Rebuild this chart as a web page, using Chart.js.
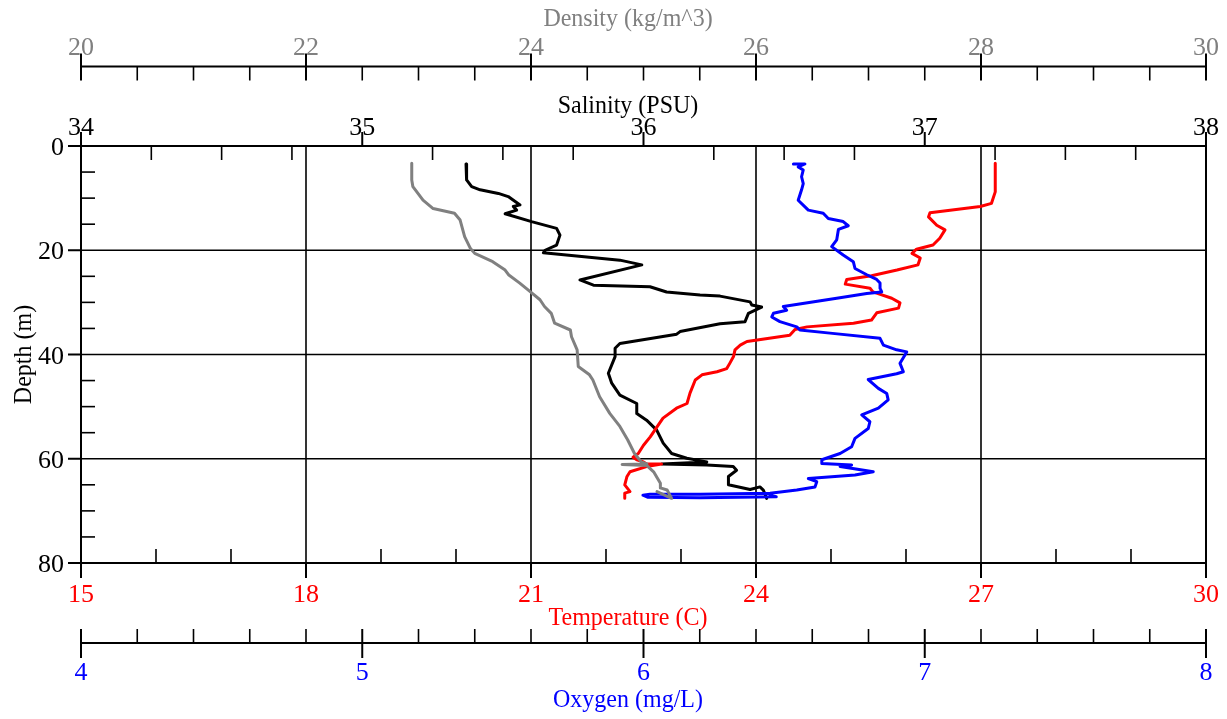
<!DOCTYPE html>
<html>
<head>
<meta charset="utf-8">
<title>CTD profile</title>
<script src="https://cdn.jsdelivr.net/npm/chart.js@4.4.1/dist/chart.umd.min.js"></script>
<style>
  body { margin: 0; background: #fff; }
  canvas { display: block; }
</style>
</head>
<body>
<canvas id="profile" width="1227" height="719"></canvas>
<script>
// cast profile, depth in metres
const tempDepth = [3.3, 8.8, 11.0, 11.6, 12.8, 13.6, 15.2, 16.1, 17.7, 19.0, 19.8, 20.6, 21.5, 22.8, 23.8, 24.9, 25.6, 26.5, 27.3, 28.0, 29.2, 30.1, 31.1, 32.0, 33.4, 34.0, 34.7, 35.2, 36.3, 37.5, 38.2, 39.1, 40.4, 41.7, 42.7, 43.3, 43.9, 44.9, 47.4, 49.4, 50.3, 52.2, 53.9, 55.8, 57.4, 59.0, 59.7, 60.2, 60.6, 61.0, 61.0, 61.5, 62.5, 63.4, 65.0, 66.3, 66.6, 67.6]
const tempValue = [27.19, 27.19, 27.14, 26.99, 26.32, 26.30, 26.41, 26.52, 26.45, 26.36, 26.14, 26.08, 26.19, 26.16, 25.88, 25.54, 25.21, 25.19, 25.52, 25.56, 25.81, 25.92, 25.90, 25.61, 25.54, 25.30, 24.68, 24.52, 24.45, 23.88, 23.79, 23.72, 23.70, 23.65, 23.61, 23.48, 23.28, 23.19, 23.12, 23.08, 22.94, 22.76, 22.68, 22.59, 22.50, 22.43, 22.36, 22.41, 22.50, 22.54, 22.74, 22.54, 22.32, 22.28, 22.25, 22.32, 22.25, 22.25]

const salDepth = [3.45, 6.5, 7.8, 8.4, 9.1, 9.7, 11.3, 11.6, 12.3, 13.0, 14.5, 15.8, 17.1, 19.0, 20.0, 20.5, 21.9, 22.8, 25.7, 26.7, 27.0, 28.0, 28.6, 28.8, 29.9, 30.5, 30.9, 32.1, 33.7, 34.1, 35.6, 36.1, 37.9, 38.8, 40.4, 43.6, 45.5, 47.8, 49.4, 51.3, 52.6, 54.5, 57.0, 59.0, 59.9, 60.6, 61.0, 61.2, 61.5, 62.2, 63.4, 65.0, 65.9, 65.4, 66.0, 67.6]
const salValue = [35.369, 35.371, 35.389, 35.419, 35.484, 35.519, 35.561, 35.537, 35.549, 35.508, 35.602, 35.691, 35.703, 35.691, 35.650, 35.644, 35.916, 35.994, 35.774, 35.822, 36.023, 36.082, 36.201, 36.272, 36.379, 36.385, 36.420, 36.373, 36.361, 36.272, 36.130, 36.118, 35.916, 35.899, 35.899, 35.875, 35.887, 35.916, 35.976, 35.976, 36.011, 36.047, 36.070, 36.100, 36.154, 36.225, 36.065, 36.225, 36.319, 36.331, 36.302, 36.302, 36.379, 36.414, 36.426, 36.438]

const densDepth = [3.3, 6.5, 7.8, 10.4, 12.0, 12.9, 14.2, 17.4, 19.6, 20.6, 22.2, 23.8, 24.7, 26.3, 27.9, 29.5, 30.8, 32.1, 34.0, 35.3, 36.6, 39.1, 42.3, 43.9, 44.9, 48.1, 51.3, 53.8, 56.4, 59.0, 60.6, 61.0, 61.1, 61.3, 62.5, 64.7, 65.6, 66.0, 67.6, 66.3]
const densValue = [22.94, 22.94, 22.95, 23.04, 23.13, 23.32, 23.37, 23.41, 23.46, 23.50, 23.66, 23.77, 23.80, 23.90, 23.99, 24.08, 24.12, 24.18, 24.21, 24.35, 24.36, 24.41, 24.42, 24.52, 24.55, 24.61, 24.70, 24.79, 24.86, 24.92, 24.98, 25.03, 24.81, 25.03, 25.09, 25.15, 25.15, 25.21, 25.25, 25.12]

const oxyDepth = [3.45, 3.45, 4.0, 4.6, 5.9, 7.2, 8.4, 10.4, 12.3, 12.9, 13.9, 14.5, 15.3, 16.0, 18.0, 19.3, 20.9, 22.2, 23.5, 24.7, 25.6, 26.3, 27.3, 28.0, 28.3, 29.2, 30.8, 31.5, 32.1, 32.8, 33.7, 34.7, 35.3, 35.9, 36.9, 38.2, 39.1, 39.5, 41.7, 43.3, 43.7, 44.8, 46.5, 47.5, 48.7, 50.3, 51.6, 52.9, 54.2, 56.1, 57.7, 59.0, 60.2, 60.9, 61.2, 61.5, 62.5, 63.1, 63.8, 64.4, 65.4, 66.0, 66.6, 66.8, 66.8, 67.0, 67.4, 67.5, 67.3, 67.05]
const oxyValue = [6.533, 6.574, 6.550, 6.568, 6.562, 6.568, 6.562, 6.550, 6.586, 6.639, 6.657, 6.710, 6.728, 6.693, 6.687, 6.669, 6.710, 6.746, 6.752, 6.794, 6.829, 6.841, 6.841, 6.847, 6.794, 6.687, 6.497, 6.509, 6.462, 6.456, 6.485, 6.545, 6.556, 6.663, 6.841, 6.853, 6.900, 6.936, 6.912, 6.924, 6.900, 6.799, 6.835, 6.865, 6.870, 6.835, 6.776, 6.805, 6.799, 6.752, 6.740, 6.699, 6.634, 6.634, 6.740, 6.699, 6.817, 6.752, 6.586, 6.616, 6.610, 6.545, 6.450, 6.201, 6.023, 5.998, 6.016, 6.201, 6.472, 6.450]

// axis ticks
const depthTicks = [0, 20, 40, 60, 80]
const tempTicks = [15, 18, 21, 24, 27, 30]
const oxyTicks = [4, 5, 6, 7, 8]
const salTicks = [34, 35, 36, 37, 38]
const densTicks = [20, 22, 24, 26, 28, 30]

const GRAY = '#808080'
const RED = '#ff0000'
const BLUE = '#0000ff'
const labelFont = '26px "Liberation Serif", "Times New Roman", serif'
const titleFont = '24px "Liberation Serif", "Times New Roman", serif'
const TITLE_X = 628

function pts(depth, values) {
  return depth.map((d, i) => ({ x: values[i], y: d }))
}

function minorValues(majors, step) {
  let out = []
  let lo = majors[0], hi = majors[majors.length - 1]
  let n = Math.round((hi - lo) / step)
  for (let i = 0; i <= n; i++) {
    let v = lo + i * step
    if (!majors.some(m => Math.abs(m - v) < 1e-6)) out.push(v)
  }
  return out
}

function line(ctx, x1, y1, x2, y2) {
  ctx.beginPath()
  ctx.moveTo(x1, y1)
  ctx.lineTo(x2, y2)
  ctx.stroke()
}

// titles come out a touch taller than the plain font
function tallText(ctx, text, x, y) {
  ctx.save()
  ctx.translate(x, y)
  ctx.scale(1, 1.06)
  ctx.fillText(text, 0, 0)
  ctx.restore()
}

// horizontal axis: majors span [majUp, majDown] around the line, minors [minUp, minDown]
function hAxis(ctx, scale, y, majors, step, o) {
  ctx.strokeStyle = '#000'
  ctx.lineWidth = 2
  line(ctx, scale.left, y, scale.right, y)
  majors.forEach(v => {
    let x = scale.getPixelForValue(v)
    line(ctx, x, y - o.majUp, x, y + o.majDown)
  })
  ctx.lineWidth = 1.6
  minorValues(majors, step).forEach(v => {
    let x = scale.getPixelForValue(v)
    line(ctx, x, y - o.minUp, x, y + o.minDown)
  })
  ctx.fillStyle = o.color
  ctx.font = labelFont
  ctx.textAlign = 'center'
  ctx.textBaseline = 'alphabetic'
  majors.forEach(v => {
    ctx.fillText(String(v), scale.getPixelForValue(v), o.labelY)
  })
  ctx.font = titleFont
  tallText(ctx, o.title, TITLE_X, o.titleY)
}

const profileAxes = {
  id: 'profileAxes',
  beforeDraw(chart) {
    const ctx = chart.ctx
    ctx.save()
    ctx.fillStyle = '#fff'
    ctx.fillRect(0, 0, chart.width, chart.height)
    ctx.restore()
  },
  beforeDatasetsDraw(chart) {
    const ctx = chart.ctx
    const area = chart.chartArea
    const xT = chart.scales.xT, y = chart.scales.y
    ctx.save()
    ctx.strokeStyle = '#000'
    ctx.lineWidth = 1.6
    tempTicks.slice(1, -1).forEach(v => {
      let x = xT.getPixelForValue(v)
      line(ctx, x, area.top, x, area.bottom)
    })
    depthTicks.slice(1, -1).forEach(v => {
      let py = y.getPixelForValue(v)
      line(ctx, area.left, py, area.right, py)
    })
    ctx.restore()
  },
  afterDatasetsDraw(chart) {
    const ctx = chart.ctx
    const area = chart.chartArea
    const s = chart.scales
    ctx.save()
    ctx.lineCap = 'butt'

    // frame
    ctx.strokeStyle = '#000'
    ctx.lineWidth = 2
    line(ctx, area.left, area.top, area.left, area.bottom)
    line(ctx, area.right, area.top, area.right, area.bottom)

    hAxis(ctx, s.xS, area.top, salTicks, 0.25, {
      majUp: 14, majDown: 0, minUp: 0, minDown: 14,
      color: '#000', labelY: 135, title: 'Salinity (PSU)', titleY: 113
    })
    hAxis(ctx, s.xD, 66.5, densTicks, 0.5, {
      majUp: 13, majDown: 14, minUp: 0, minDown: 14,
      color: GRAY, labelY: 55, title: 'Density (kg/m^3)', titleY: 26
    })
    hAxis(ctx, s.xT, area.bottom, tempTicks, 1, {
      majUp: 0, majDown: 15, minUp: 14, minDown: 0,
      color: RED, labelY: 602, title: 'Temperature (C)', titleY: 625
    })
    hAxis(ctx, s.xO, 643, oxyTicks, 0.2, {
      majUp: 14, majDown: 15, minUp: 14, minDown: 0,
      color: BLUE, labelY: 680, title: 'Oxygen (mg/L)', titleY: 707
    })

    // depth axis
    ctx.strokeStyle = '#000'
    ctx.lineWidth = 2
    depthTicks.forEach(v => {
      let py = s.y.getPixelForValue(v)
      line(ctx, area.left - 13, py, area.left, py)
    })
    ctx.lineWidth = 1.6
    minorValues(depthTicks, 5).forEach(v => {
      let py = s.y.getPixelForValue(v)
      line(ctx, area.left, py, area.left + 14, py)
    })
    ctx.fillStyle = '#000'
    ctx.font = labelFont
    ctx.textAlign = 'right'
    depthTicks.forEach(v => {
      ctx.fillText(String(v), area.left - 17, s.y.getPixelForValue(v) + 9)
    })
    ctx.font = titleFont
    ctx.textAlign = 'center'
    ctx.translate(31, (area.top + area.bottom) / 2)
    ctx.rotate(-Math.PI / 2)
    tallText(ctx, 'Depth (m)', 0, 0)
    ctx.restore()
  }
}

function series(label, depth, values, axis, color, order) {
  return {
    label: label,
    data: pts(depth, values),
    xAxisID: axis,
    yAxisID: 'y',
    showLine: true,
    borderColor: color,
    backgroundColor: color,
    borderWidth: 3,
    borderJoinStyle: 'round',
    borderCapStyle: 'round',
    pointRadius: 0,
    tension: 0,
    order: order
  }
}

function hidden(min, max) {
  return { type: 'linear', min: min, max: max, display: false }
}

new Chart(document.getElementById('profile'), {
  type: 'scatter',
  data: {
    datasets: [
      series('Density', densDepth, densValue, 'xD', GRAY, 0),
      series('Oxygen', oxyDepth, oxyValue, 'xO', BLUE, 1),
      series('Temperature', tempDepth, tempValue, 'xT', RED, 2),
      series('Salinity', salDepth, salValue, 'xS', '#000', 3)
    ]
  },
  options: {
    responsive: false,
    animation: false,
    devicePixelRatio: 1,
    layout: { padding: { left: 81, top: 146, right: 21, bottom: 156 } },
    scales: {
      xT: hidden(15, 30),
      xO: hidden(4, 8),
      xS: hidden(34, 38),
      xD: hidden(20, 30),
      y: { type: 'linear', min: 0, max: 80, reverse: true, display: false }
    },
    plugins: {
      legend: { display: false },
      tooltip: { enabled: false }
    }
  },
  plugins: [profileAxes]
})
</script>
</body>
</html>
